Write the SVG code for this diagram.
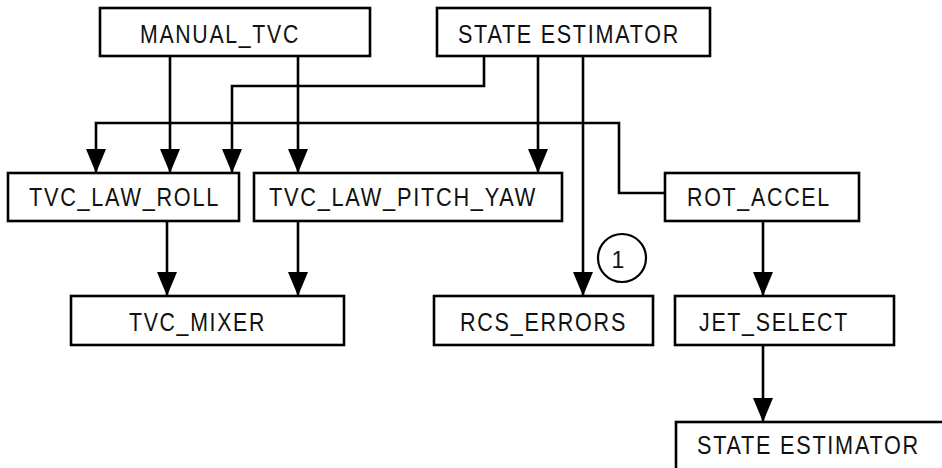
<svg xmlns="http://www.w3.org/2000/svg" width="942" height="468" viewBox="0 0 942 468">
<style>
.box{fill:#fff;stroke:#000;stroke-width:2.6}
.lbl{font-family:"Liberation Sans",Arial,sans-serif;font-size:25px;letter-spacing:2px;fill:#111}
.c{fill:none;stroke:#000;stroke-width:2.6}
.a{marker-end:url(#ah)}
</style>
<defs>
<marker id="ah" markerUnits="userSpaceOnUse" markerWidth="24" markerHeight="20" viewBox="0 0 24 20" refX="24" refY="10" orient="auto">
<path d="M0,0 L24,10 L0,20 Z" fill="#000"/>
</marker>
</defs>
<rect width="942" height="468" fill="#fff"/>
<g id="connectors">
<path class="c a" d="M170,56 V173"/>
<path class="c a" d="M298,56 V173"/>
<path class="c a" d="M484,56 V86 H232 V173"/>
<path class="c a" d="M665,193 H619 V123 H96 V173"/>
<path class="c a" d="M538,56 V173"/>
<path class="c a" d="M583,56 V296"/>
<path class="c a" d="M167,221 V296"/>
<path class="c a" d="M298,221 V296"/>
<path class="c a" d="M763,221 V296"/>
<path class="c a" d="M763,345 V422"/>
</g>
<g id="manual_tvc"><rect class="box" x="100" y="8" width="270" height="48"/><text class="lbl" x="140" y="43" textLength="160" lengthAdjust="spacingAndGlyphs">MANUAL_TVC</text></g>
<g id="state_estimator_top"><rect class="box" x="437" y="8" width="273" height="48"/><text class="lbl" x="458" y="43" textLength="222" lengthAdjust="spacingAndGlyphs">STATE ESTIMATOR</text></g>
<g id="tvc_law_roll"><rect class="box" x="8" y="173" width="231" height="48"/><text class="lbl" x="29" y="206" textLength="191" lengthAdjust="spacingAndGlyphs">TVC_LAW_ROLL</text></g>
<g id="tvc_law_pitch_yaw"><rect class="box" x="254" y="173" width="308" height="48"/><text class="lbl" x="269" y="206" textLength="268" lengthAdjust="spacingAndGlyphs">TVC_LAW_PITCH_YAW</text></g>
<g id="rot_accel"><rect class="box" x="665" y="173" width="194" height="48"/><text class="lbl" x="687" y="206" textLength="144" lengthAdjust="spacingAndGlyphs">ROT_ACCEL</text></g>
<g id="tvc_mixer"><rect class="box" x="71" y="296" width="273" height="49"/><text class="lbl" x="129" y="331" textLength="137" lengthAdjust="spacingAndGlyphs">TVC_MIXER</text></g>
<g id="rcs_errors"><rect class="box" x="434" y="296" width="219" height="49"/><text class="lbl" x="460" y="331" textLength="167" lengthAdjust="spacingAndGlyphs">RCS_ERRORS</text></g>
<g id="jet_select"><rect class="box" x="675" y="296" width="219" height="49"/><text class="lbl" x="699" y="331" textLength="150" lengthAdjust="spacingAndGlyphs">JET_SELECT</text></g>
<g id="state_estimator_bottom"><rect class="box" x="676" y="422" width="300" height="70"/><text class="lbl" x="697" y="454" textLength="223" lengthAdjust="spacingAndGlyphs">STATE ESTIMATOR</text></g>
<g id="note_1"><circle cx="622" cy="258" r="24" fill="none" stroke="#000" stroke-width="2.2"/><text class="lbl" x="618" y="268" text-anchor="middle" style="font-size:23px;letter-spacing:0">1</text></g>
</svg>
